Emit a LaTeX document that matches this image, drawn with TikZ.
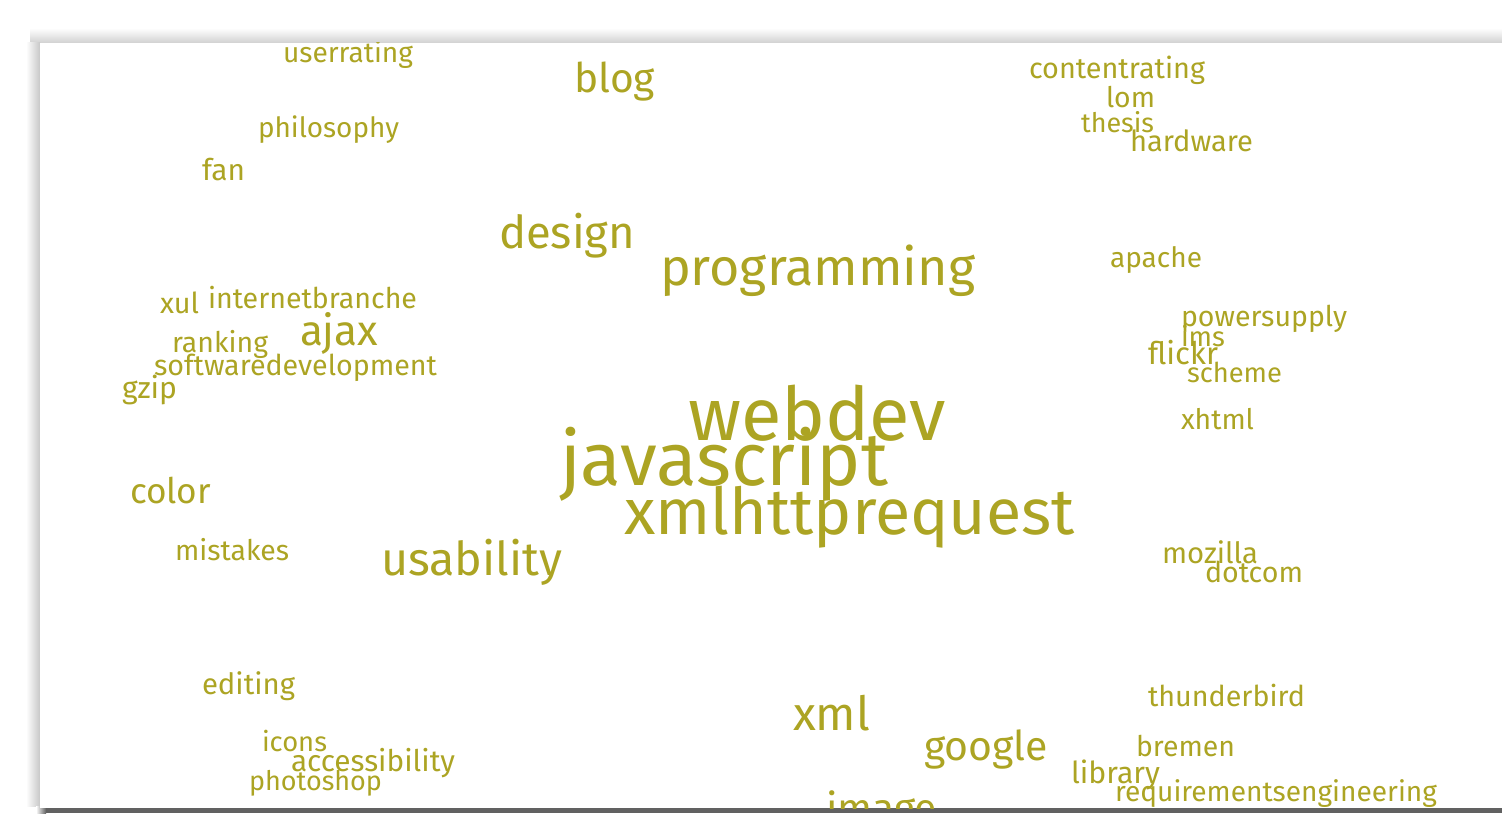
\documentclass[tikz,border=0pt]{standalone}
\usepackage{fontspec}
\setmainfont{Fira Sans}
\usepackage{graphicx}
\definecolor{olive}{RGB}{172,164,35}
\newlength\pxunit
\setlength\pxunit{0.5pt}
\newcommand\fitw[2]{\resizebox{#1\pxunit}{!}{#2}}
\tikzset{word/.style={inner sep=0pt, outer sep=0pt, anchor=base west, text=olive}}
\begin{document}
\begin{tikzpicture}[x=0.5pt,y=-0.5pt]
\useasboundingbox (0,0) rectangle (1502,813);
\fill[white] (0,0) rectangle (1502,813);
% shadows
\shade[top color=white, bottom color=black!18] (30,28) rectangle (1502,43);
\shade[left color=white, right color=black!22] (26,43) rectangle (40,806);
\fill[black!62] (46,806) rectangle (1502,813);
\shade[left color=white, right color=black!62] (36,806) rectangle (46,813);
\fill[white] (40,43) rectangle (1502,808);
\begin{scope}
\clip (40,43) rectangle (1502,808);
% small words
\node[word] (userrating) at (283,62) {\fitw{130}{userrating}};
\node[word] (philosophy) at (258,137) {\fitw{141}{philosophy}};
\node[word] (fan) at (202,180) {\fitw{43}{fan}};
\node[word] (contentrating) at (1029,79) {\fitw{176}{contentrating}};
\node[word] (lom) at (1106,107) {\fitw{49}{lom}};
\node[word] (thesis) at (1081,133) {\fitw{73}{thesis}};
\node[word] (hardware) at (1130,151) {\fitw{123}{hardware}};
\node[word] (apache) at (1110,267) {\fitw{92}{apache}};
\node[word] (powersupply) at (1181,326) {\fitw{166}{powersupply}};
\node[word] (ims) at (1181,346) {\fitw{44}{ims}};
\node[word] (flickr) at (1148,364) {\fitw{70}{flickr}};
\node[word] (scheme) at (1187,382) {\fitw{95}{scheme}};
\node[word] (xhtml) at (1181,429) {\fitw{73}{xhtml}};
\node[word] (xul) at (160,313) {\fitw{39}{xul}};
\node[word] (internetbranche) at (208,308) {\fitw{209}{internetbranche}};
\node[word] (ranking) at (172,352) {\fitw{96}{ranking}};
\node[word] (softwaredevelopment) at (154,375) {\fitw{283}{softwaredevelopment}};
\node[word] (gzip) at (122,398) {\fitw{55}{gzip}};
\node[word] (mistakes) at (175,560) {\fitw{114}{mistakes}};
\node[word] (editing) at (202,694) {\fitw{93}{editing}};
\node[word] (icons) at (262,751) {\fitw{65}{icons}};
\node[word] (accessibility) at (291,771) {\fitw{164}{accessibility}};
\node[word] (photoshop) at (249,790) {\fitw{133}{photoshop}};
\node[word] (mozilla) at (1162,563) {\fitw{96}{mozilla}};
\node[word] (dotcom) at (1205,582) {\fitw{98}{dotcom}};
\node[word] (thunderbird) at (1148,706) {\fitw{157}{thunderbird}};
\node[word] (bremen) at (1136,756) {\fitw{99}{bremen}};
\node[word] (library) at (1071,783) {\fitw{89}{library}};
\node[word] (requirementsengineering) at (1115,801) {\fitw{322}{requirementsengineering}};
% medium words
\node[word] (color) at (130,503) {\fitw{81}{color}};
\node[word] (blog) at (574,93) {\fitw{81}{blog}};
\node[word] (ajax) at (300,345) {\fitw{78}{ajax}};
\node[word] (design) at (499,248) {\fitw{136}{design}};
\node[word] (usability) at (381,575) {\fitw{181}{usability}};
\node[word] (xml) at (793,730) {\fitw{77}{xml}};
\node[word] (google) at (924,760) {\fitw{124}{google}};
\node[word] (image) at (826,822) {\fitw{111}{image}};
\node[word] (programming) at (660,285) {\fitw{315}{programming}};
% large words
\node[word] (webdev) at (688,440) {\fitw{258}{webdev}};
\node[word] (javascript) at (560,485) {\fitw{328}{javascript}};
\node[word] (xmlhttprequest) at (624,534) {\fitw{451}{xmlhttprequest}};
\end{scope}
\end{tikzpicture}
\end{document}
